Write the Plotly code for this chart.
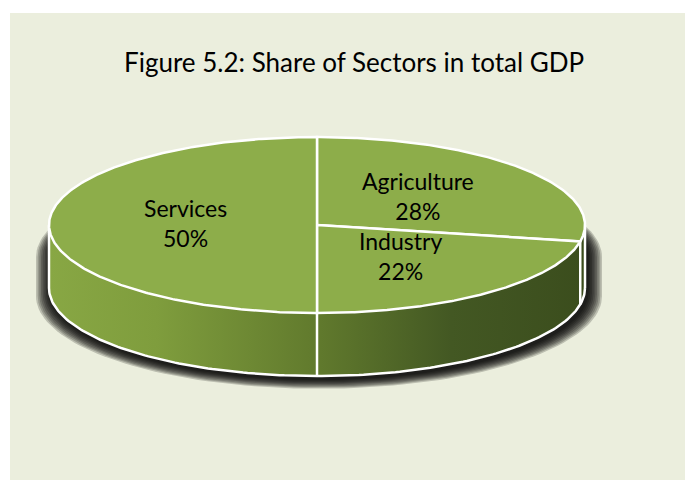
import numpy as np
import plotly.graph_objects as go

# Sector shares of total GDP (percent), in clockwise order from 12 o'clock
sectors = ["Agriculture", "Industry", "Services"]
shares = [28, 22, 50]
title_text = "Figure 5.2: Share of Sectors in total GDP"

# Pie geometry in pixel space (y grows downward)
CX, CY = 317.0, 225.0      # centre of the top face
RX, RY = 268.0, 88.0       # radii of the top face
DEPTH = 63.0               # thickness of the disc
TOP_COLOR = "#8DAD4A"
EDGE = "white"
FONT = "Lato, 'Open Sans', sans-serif"


def ell(theta_deg, ycen, rx=RX, ry=RY, xcen=CX):
    """Point on an ellipse; theta measured clockwise from 12 o'clock."""
    t = np.radians(np.asarray(theta_deg, dtype=float))
    return xcen + rx * np.sin(t), ycen - ry * np.cos(t)


fig = go.Figure()

# Soft drop shadow under the disc, built from stacked translucent capsules
n_layers = 9
for k in range(n_layers):
    e = 15.0 * (1 - k / n_layers)
    bot = np.linspace(90, 270, 90)
    back = np.linspace(270, 450, 90)
    bx, by = ell(bot, CY + DEPTH + 3 + e * 0.35, RX + e, RY + e * 0.3, CX + 2)
    tx, ty = ell(back, CY + 32, RX + e, RY + e * 0.3, CX + 2)
    fig.add_trace(go.Scatter(
        x=np.concatenate([bx, tx]), y=np.concatenate([by, ty]),
        mode="lines", line=dict(width=0), fill="toself",
        fillcolor="rgba(0,0,0,0.2)", hoverinfo="skip", showlegend=False))

# Front wall of the disc with a light-to-dark horizontal shading
front = np.linspace(90, 270, 181)
bx, by = ell(front, CY + DEPTH)
tx, ty = ell(front[::-1], CY)
fig.add_trace(go.Scatter(
    x=np.concatenate([bx, tx]), y=np.concatenate([by, ty]),
    mode="lines", line=dict(width=0), fill="toself",
    fillgradient=dict(type="horizontal", colorscale=[
        [0.0, "#88A744"], [0.2, "#7F9D3D"], [0.5, "#617A2D"],
        [0.75, "#435823"], [1.0, "#3B4D1D"]]),
    hoverinfo="skip", showlegend=False))

# Outline of the wall: bottom rim and the two vertical edges
fig.add_trace(go.Scatter(x=bx, y=by, mode="lines",
                         line=dict(color=EDGE, width=2.5),
                         hoverinfo="skip", showlegend=False))
for th in (90, 270):
    x0, y0 = ell(th, CY)
    x1, y1 = ell(th, CY + DEPTH)
    fig.add_trace(go.Scatter(x=[x0, x1], y=[y0, y1], mode="lines",
                             line=dict(color=EDGE, width=2.5),
                             hoverinfo="skip", showlegend=False))

# Slice boundaries from the data
total = float(sum(shares))
bounds = np.concatenate([[0.0], np.cumsum(shares) / total * 360.0])

# Vertical seams on the wall where a slice boundary faces the viewer
for th in bounds[1:-1]:
    if 90 < th < 270:
        x0, y0 = ell(th, CY)
        x1, y1 = ell(th, CY + DEPTH)
        fig.add_trace(go.Scatter(x=[x0, x1], y=[y0, y1], mode="lines",
                                 line=dict(color=EDGE, width=2.5),
                                 hoverinfo="skip", showlegend=False))

# Top face slices
for name, a0, a1 in zip(sectors, bounds[:-1], bounds[1:]):
    arc = np.linspace(a0, a1, max(int(a1 - a0) * 2, 8))
    ax_, ay_ = ell(arc, CY)
    xs = np.concatenate([[CX], ax_, [CX]])
    ys = np.concatenate([[CY], ay_, [CY]])
    fig.add_trace(go.Scatter(
        x=xs, y=ys, mode="lines", fill="toself", fillcolor=TOP_COLOR,
        line=dict(color=EDGE, width=2.5), name=name,
        hoverinfo="skip", showlegend=False))

# Slice labels at mid-radius of each slice
for name, val, a0, a1 in zip(sectors, shares, bounds[:-1], bounds[1:]):
    mid = (a0 + a1) / 2
    lx, ly = ell(mid, CY, RX * 0.49, RY * 0.49)
    fig.add_annotation(x=float(lx), y=float(ly) - 2, xref="x", yref="y",
                       text=f"{name}<br>{val}%", showarrow=False,
                       font=dict(family=FONT, size=23, color="black"),
                       align="center")

fig.update_layout(
    width=685, height=480,
    margin=dict(l=0, r=0, t=0, b=0),
    paper_bgcolor="white", plot_bgcolor="rgba(0,0,0,0)",
    xaxis=dict(range=[0, 685], visible=False, fixedrange=True),
    yaxis=dict(range=[480, 0], visible=False, fixedrange=True),
    shapes=[dict(type="rect", xref="x", yref="y", x0=10, y0=13, x1=685, y1=480,
                 fillcolor="#EBEEDD", line=dict(width=0), layer="below")],
    annotations=list(fig.layout.annotations) + [
        dict(x=354, y=62, xref="x", yref="y", text=title_text, showarrow=False,
             font=dict(family=FONT, size=26, color="black"))],
)

fig.write_html("out.html")
